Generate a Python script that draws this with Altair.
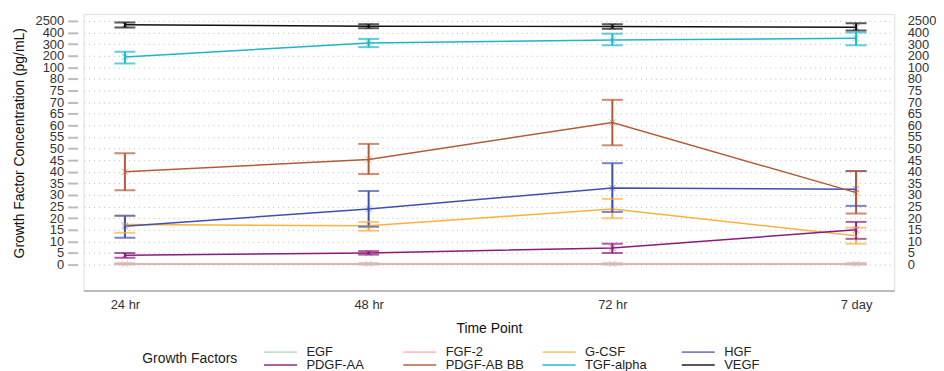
import altair as alt
import pandas as pd

TIMES = ["24 hr", "48 hr", "72 hr", "7 day"]
FACTORS = ["EGF", "FGF-2", "G-CSF", "HGF", "PDGF-AA", "PDGF-AB BB", "TGF-alpha", "VEGF"]
COLORS = ["#a9d5b0", "#f2a7b3", "#f9b13d", "#3f4fb0", "#8a1a7c", "#b55a37", "#1cb6c6", "#111111"]

# means and error limits per growth factor (pg/mL), one value per time point
EGF_MEAN = [0.4, 0.4, 0.4, 0.4]
EGF_LO = [0.1, 0.1, 0.1, 0.1]
EGF_HI = [0.7, 0.7, 0.7, 0.7]
FGF2_MEAN = [0.2, 0.2, 0.2, 0.2]
FGF2_LO = [0.1, 0.1, 0.1, 0.1]
FGF2_HI = [0.3, 0.3, 0.3, 0.3]
GCSF_MEAN = [17.3, 16.7, 24.0, 12.4]
GCSF_LO = [13.7, 14.6, 20.0, 9.0]
GCSF_HI = [21.0, 18.4, 28.3, 15.9]
HGF_MEAN = [16.5, 24.0, 33.0, 32.5]
HGF_LO = [11.6, 16.3, 22.7, 25.3]
HGF_HI = [21.0, 31.7, 43.7, 40.3]
PDGFAA_MEAN = [4.0, 5.0, 7.2, 15.0]
PDGFAA_LO = [3.0, 4.3, 5.0, 11.1]
PDGFAA_HI = [5.0, 5.8, 9.0, 18.4]
PDGFAB_MEAN = [40.0, 45.3, 61.2, 31.0]
PDGFAB_LO = [32.0, 39.0, 51.4, 22.0]
PDGFAB_HI = [48.0, 52.0, 71.0, 40.3]
TGF_MEAN = [190, 310, 335, 350]
TGF_LO = [134, 274, 290, 290]
TGF_HI = [234, 345, 390, 405]
VEGF_MEAN = [1800, 1540, 1490, 1360]
VEGF_LO = [1300, 1180, 1070, 760]
VEGF_HI = [2210, 1900, 1900, 2080]

MEANS = [EGF_MEAN, FGF2_MEAN, GCSF_MEAN, HGF_MEAN, PDGFAA_MEAN, PDGFAB_MEAN, TGF_MEAN, VEGF_MEAN]
LOWS = [EGF_LO, FGF2_LO, GCSF_LO, HGF_LO, PDGFAA_LO, PDGFAB_LO, TGF_LO, VEGF_LO]
HIGHS = [EGF_HI, FGF2_HI, GCSF_HI, HGF_HI, PDGFAA_HI, PDGFAB_HI, TGF_HI, VEGF_HI]

# broken (piecewise) y axis ticks
Y_TICKS = list(range(0, 85, 5)) + [100, 200, 300, 400, 2500]

rows = []
for f, m, lo, hi in zip(FACTORS, MEANS, LOWS, HIGHS):
    for t, a, b, c in zip(TIMES, m, lo, hi):
        rows.append({"factor": f, "time": t, "mean": a, "lo": b, "hi": c})
df = pd.DataFrame(rows)

W, H = 815, 278
ZERO_PX = 252
STEP = 245 / 21
y_range = [ZERO_PX - i * STEP for i in range(len(Y_TICKS))]


def yscale():
    return alt.Scale(domain=Y_TICKS, range=y_range, zero=False, nice=False, clamp=False)


def xscale():
    return alt.Scale(type="point", domain=TIMES, padding=0.163, align=0.52)


def cscale():
    return alt.Scale(domain=FACTORS, range=COLORS)


legend = alt.Legend(
    title="Growth Factors", orient="none", legendX=59, legendY=334,
    direction="horizontal", columns=4, titleOrient="left", titlePadding=25,
    symbolType="stroke", symbolSize=1100, symbolStrokeWidth=2,
    labelFontSize=13, titleFontSize=14, titleFontWeight="normal",
    titleColor="#222", labelColor="#222", gridAlign="all", columnPadding=17,
    rowPadding=0, clipHeight=12, labelOffset=8, labelLimit=120,
    titleBaseline="middle",
)

xaxis = alt.Axis(title="Time Point", labelAngle=0, labelFontSize=13,
                 labelColor="#333", titleFontSize=14, titleFontWeight="normal",
                 titleColor="#111", domainColor="#aaa", domainWidth=1.5,
                 ticks=False, labelPadding=8, titlePadding=10)


def left_axis():
    return alt.Axis(values=Y_TICKS, title="Growth Factor Concentration (pg/mL)",
                    format="d", grid=True, gridDash=[1, 4], gridColor="#bbb",
                    gridWidth=1, domain=False, tickColor="#bbb", tickWidth=2,
                    tickSize=10, offset=6, labelPadding=4, labelFontSize=13,
                    labelColor="#333", titleFontSize=14, titleFontWeight="normal",
                    titleColor="#111", labelOverlap=False, titlePadding=8)


right_axis = alt.Axis(values=Y_TICKS, orient="right", title=None, grid=False,
                      format="d", domain=False, ticks=False, labelPadding=13,
                      labelFontSize=13, labelColor="#333", labelOverlap=False)

base = alt.Chart(df)

lines = base.mark_line(strokeWidth=1.5).encode(
    x=alt.X("time:N", scale=xscale(), sort=TIMES, axis=xaxis),
    y=alt.Y("mean:Q", scale=yscale(), axis=left_axis()),
    color=alt.Color("factor:N", scale=cscale(), legend=legend),
    detail="factor:N")
rules = base.mark_rule(strokeWidth=2).encode(
    x=alt.X("time:N", sort=TIMES, axis=xaxis), y=alt.Y("lo:Q", axis=left_axis()), y2="hi:Q",
    color=alt.Color("factor:N", legend=legend))
caps_lo = base.mark_tick(size=21, thickness=2).encode(
    x=alt.X("time:N", sort=TIMES, axis=xaxis), y=alt.Y("lo:Q", axis=left_axis()),
    color=alt.Color("factor:N", legend=legend))
caps_hi = base.mark_tick(size=21, thickness=2).encode(
    x=alt.X("time:N", sort=TIMES, axis=xaxis), y=alt.Y("hi:Q", axis=left_axis()),
    color=alt.Color("factor:N", legend=legend))
marks = base.mark_point(shape="M-1,-1L1,1M-1,1L1,-1", size=40, filled=False,
                        strokeWidth=1, opacity=0.55).encode(
    x=alt.X("time:N", sort=TIMES, axis=xaxis), y=alt.Y("mean:Q", axis=left_axis()),
    color=alt.Color("factor:N", legend=legend))

main = alt.layer(lines, rules, caps_lo, caps_hi, marks)

right = base.mark_point(opacity=0).encode(
    x=alt.X("time:N", sort=TIMES, scale=xscale(), axis=xaxis),
    y=alt.Y("mean:Q", scale=yscale(), axis=right_axis))

chart = alt.layer(main, right).resolve_scale(
    y="independent"
).properties(width=W, height=H, padding={"left": 5, "top": 5, "right": 0, "bottom": 0}).configure_view(
    stroke=None
).configure(font="Liberation Sans")

chart.save("out.html", embed_options={"renderer": "svg", "actions": False})
